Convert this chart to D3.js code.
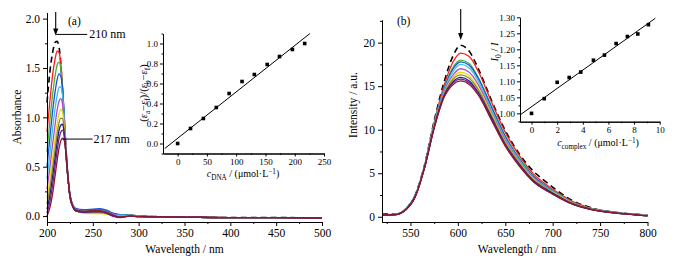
<!DOCTYPE html>
<html>
<head>
<meta charset="utf-8">
<script src="https://cdn.jsdelivr.net/npm/d3@7"></script>
<style>
  body { margin: 0; background: #fff; }
  svg { display: block; }
</style>
</head>
<body>
<div id="chart"></div>
<script>
// ---- (a) absorption spectra ----
const absWave = [200, 203, 206, 209, 211, 213, 215, 217, 219, 221, 223, 225, 228, 232, 240, 250, 258, 265, 272, 280, 290, 300, 350, 400, 450, 500];
const absFree    = [1.15, 1.45, 1.65, 1.76, 1.77, 1.72, 1.55, 1.25, 0.90, 0.60, 0.35, 0.20, 0.10, 0.060, 0.050, 0.060, 0.065, 0.050, 0.025, 0.010, 0.010, 0.000, -0.010, -0.015, -0.015, -0.020];
const absRed     = [0.85, 1.15, 1.42, 1.60, 1.67, 1.66, 1.55, 1.30, 0.95, 0.62, 0.37, 0.21, 0.11, 0.065, 0.055, 0.060, 0.065, 0.050, 0.025, 0.010, 0.010, 0.000, -0.010, -0.015, -0.015, -0.020];
const absGreen   = [0.65, 0.95, 1.22, 1.43, 1.53, 1.56, 1.50, 1.30, 0.98, 0.64, 0.38, 0.22, 0.11, 0.065, 0.055, 0.060, 0.060, 0.045, 0.020, 0.010, 0.010, 0.000, -0.010, -0.015, -0.015, -0.020];
const absBlue    = [0.50, 0.78, 1.05, 1.27, 1.38, 1.44, 1.42, 1.28, 0.99, 0.66, 0.39, 0.22, 0.12, 0.075, 0.065, 0.070, 0.075, 0.060, 0.030, 0.015, 0.010, 0.000, -0.010, -0.015, -0.015, -0.020];
const absCyan    = [0.38, 0.62, 0.88, 1.10, 1.22, 1.30, 1.31, 1.22, 0.97, 0.66, 0.39, 0.22, 0.11, 0.065, 0.055, 0.055, 0.055, 0.045, 0.020, 0.010, 0.010, 0.000, -0.010, -0.015, -0.015, -0.020];
const absMagenta = [0.27, 0.48, 0.72, 0.94, 1.07, 1.16, 1.19, 1.13, 0.93, 0.65, 0.39, 0.22, 0.11, 0.060, 0.045, 0.045, 0.045, 0.035, 0.015, 0.005, 0.005, 0.000, -0.010, -0.015, -0.015, -0.020];
const absYellow  = [0.18, 0.36, 0.58, 0.80, 0.93, 1.03, 1.08, 1.05, 0.88, 0.63, 0.38, 0.21, 0.10, 0.050, 0.030, 0.025, 0.025, 0.020, 0.005, 0.000, 0.000, -0.005, -0.010, -0.015, -0.015, -0.020];
const absOlive   = [0.12, 0.28, 0.48, 0.69, 0.83, 0.94, 0.99, 0.99, 0.85, 0.62, 0.38, 0.21, 0.10, 0.050, 0.035, 0.035, 0.035, 0.025, 0.005, -0.005, 0.000, -0.005, -0.010, -0.015, -0.015, -0.020];
const absNavy    = [0.07, 0.20, 0.39, 0.60, 0.74, 0.86, 0.92, 0.93, 0.82, 0.61, 0.38, 0.21, 0.10, 0.050, 0.040, 0.045, 0.045, 0.030, 0.000, -0.010, 0.000, -0.005, -0.010, -0.015, -0.015, -0.020];
const absPurple  = [0.03, 0.14, 0.31, 0.52, 0.66, 0.78, 0.85, 0.87, 0.79, 0.60, 0.38, 0.21, 0.10, 0.050, 0.040, 0.045, 0.045, 0.030, 0.000, -0.015, 0.000, -0.005, -0.010, -0.015, -0.015, -0.020];
const absWine    = [0.00, 0.08, 0.22, 0.42, 0.56, 0.68, 0.76, 0.79, 0.76, 0.60, 0.38, 0.21, 0.10, 0.060, 0.050, 0.055, 0.055, 0.040, 0.010, -0.010, 0.000, -0.005, -0.010, -0.015, -0.015, -0.020];

// inset (a): linear fit vs DNA concentration
const dnaConc  = [0, 22, 44, 66, 88, 110, 131, 153, 174, 196, 217];
const dnaRatio = [0.00, 0.15, 0.25, 0.36, 0.50, 0.62, 0.69, 0.79, 0.87, 0.94, 1.00];
const dnaFitX  = [-22, 226];
const dnaFitY  = [-0.05, 1.10];

// ---- (b) emission spectra ----
const emWave = [520, 535, 545, 555, 565, 575, 585, 595, 603, 612, 622, 635, 650, 665, 680, 692, 705, 720, 740, 760, 780, 800];
const emFree    = [0.30, 0.30, 0.90, 2.5, 6.0, 11.0, 15.3, 18.5, 19.7, 19.0, 16.9, 13.5, 9.9, 7.2, 5.2, 4.1, 3.0, 1.9, 1.05, 0.60, 0.35, 0.20];
const emRed     = [0.25, 0.30, 0.90, 2.4, 5.9, 10.8, 14.9, 17.8, 18.8, 18.4, 16.6, 13.3, 9.7, 7.0, 4.9, 3.8, 2.8, 1.8, 1.00, 0.60, 0.35, 0.20];
const emGreen   = [0.20, 0.30, 0.90, 2.4, 5.9, 10.7, 14.6, 17.2, 18.0, 17.6, 15.9, 12.8, 9.3, 6.7, 4.7, 3.6, 2.7, 1.7, 0.95, 0.60, 0.35, 0.20];
const emBlue    = [0.20, 0.30, 0.90, 2.4, 5.8, 10.6, 14.5, 17.0, 17.8, 17.4, 15.8, 12.7, 9.2, 6.6, 4.6, 3.6, 2.6, 1.7, 0.95, 0.55, 0.30, 0.15];
const emCyan    = [0.20, 0.30, 0.90, 2.4, 5.8, 10.6, 14.4, 16.7, 17.5, 17.1, 15.5, 12.4, 9.0, 6.5, 4.5, 3.5, 2.6, 1.7, 0.95, 0.55, 0.30, 0.15];
const emMagenta = [0.20, 0.30, 0.80, 2.3, 5.8, 10.5, 14.2, 16.3, 17.0, 16.6, 15.1, 12.1, 8.8, 6.3, 4.4, 3.4, 2.5, 1.6, 0.90, 0.55, 0.30, 0.15];
const emYellow  = [0.20, 0.25, 0.80, 2.3, 5.8, 10.4, 14.0, 16.0, 16.6, 16.2, 14.7, 11.9, 8.6, 6.2, 4.3, 3.3, 2.5, 1.6, 0.90, 0.50, 0.30, 0.15];
const emOlive   = [0.20, 0.25, 0.80, 2.3, 5.7, 10.3, 13.9, 15.8, 16.3, 15.9, 14.5, 11.7, 8.5, 6.1, 4.2, 3.3, 2.4, 1.6, 0.90, 0.50, 0.30, 0.10];
const emNavy    = [0.20, 0.25, 0.80, 2.3, 5.7, 10.3, 13.8, 15.5, 16.0, 15.6, 14.2, 11.5, 8.3, 6.0, 4.1, 3.2, 2.4, 1.5, 0.85, 0.50, 0.30, 0.10];
const emPurple  = [0.20, 0.25, 0.80, 2.3, 5.7, 10.2, 13.7, 15.4, 15.8, 15.4, 14.1, 11.3, 8.2, 5.9, 4.0, 3.1, 2.3, 1.5, 0.85, 0.50, 0.30, 0.10];
const emWine    = [0.20, 0.25, 0.80, 2.3, 5.7, 10.2, 13.6, 15.2, 15.6, 15.2, 13.9, 11.2, 8.1, 5.8, 4.0, 3.1, 2.3, 1.5, 0.85, 0.50, 0.30, 0.10];

// inset (b): Stern-Volmer plot
const complexConc = [0, 0.99, 2.0, 2.94, 3.84, 4.83, 5.69, 6.6, 7.48, 8.29, 9.12];
const quenchRatio = [1.000, 1.046, 1.097, 1.112, 1.129, 1.166, 1.182, 1.218, 1.240, 1.248, 1.277];
const svFitX = [-0.9, 9.66];
const svFitY = [0.995, 1.297];

// ticks
const absXTicks = [200, 250, 300, 350, 400, 450, 500];
const absYTicks = [0, 0.5, 1.0, 1.5, 2.0];
const emXTicks = [550, 600, 650, 700, 750, 800];
const emYTicks = [0, 5, 10, 15, 20];
const dnaXTicks = [0, 50, 100, 150, 200, 250];
const dnaYTicks = [0, 0.2, 0.4, 0.6, 0.8, 1.0];
const svXTicks = [0, 2, 4, 6, 8, 10];
const svYTicks = [1.00, 1.05, 1.10, 1.15, 1.20, 1.25, 1.30];

const seriesColors = ["#ff1a1a", "#3cb83c", "#1f4fd8", "#38c4e0", "#b848c8", "#e8dc10", "#8c8c20", "#1c1c88", "#7a1a88", "#8a1830"];

const font = "'Liberation Serif', 'Times New Roman', serif";

let svg = d3.select("#chart").append("svg")
  .attr("width", 678)
  .attr("height", 264)
  .style("background", "#fff");

// draws open-frame (left + bottom) axes with outward major/minor ticks
function drawAxes(g, x, y, cfg) {
  let yBase = y.range()[0];
  let xBase = x.range()[0];

  let bottomMinor = d3.axisBottom(x).tickValues(cfg.xMinor).tickSize(cfg.minor).tickSizeOuter(0).tickFormat("");
  let bottomMajor = d3.axisBottom(x).tickValues(cfg.xTicks).tickSize(cfg.major).tickSizeOuter(0)
    .tickPadding(cfg.pad).tickFormat(cfg.xFmt);
  let leftMinor = d3.axisLeft(y).tickValues(cfg.yMinor).tickSize(cfg.minor).tickSizeOuter(0).tickFormat("");
  let leftMajor = d3.axisLeft(y).tickValues(cfg.yTicks).tickSize(cfg.major).tickSizeOuter(0)
    .tickPadding(cfg.pad).tickFormat(cfg.yFmt);

  [bottomMinor, bottomMajor].forEach(ax => {
    g.append("g").attr("transform", `translate(0,${yBase})`).call(ax)
      .attr("font-family", font).attr("font-size", cfg.fontSize);
  });
  [leftMinor, leftMajor].forEach(ax => {
    g.append("g").attr("transform", `translate(${xBase},0)`).call(ax)
      .attr("font-family", font).attr("font-size", cfg.fontSize);
  });
  g.selectAll(".domain, .tick line").attr("stroke", "#000").attr("stroke-width", 1);
  g.selectAll(".tick text").attr("fill", "#000");
}

// text with italic / sub / sup pieces
function richText(sel, parts, baseSize) {
  let shift = 0;
  parts.forEach(p => {
    let ts = sel.append("tspan").text(p.t);
    let target = p.sub ? 2.5 : (p.sup ? -3.5 : 0);
    if (target !== shift) { ts.attr("dy", target - shift); shift = target; }
    if (p.sub || p.sup) ts.attr("font-size", baseSize * 0.72);
    if (p.i) ts.attr("font-style", "italic");
  });
  return sel;
}

function drawSpectra(g, x, y, wave, dashed, curves) {
  let line = d3.line()
    .x((d, i) => x(wave[i]))
    .y(d => y(d))
    .curve(d3.curveMonotoneX);

  g.append("path")
    .attr("d", line(dashed))
    .attr("fill", "none")
    .attr("stroke", "#000")
    .attr("stroke-width", 1.6)
    .attr("stroke-dasharray", "6,4");

  g.selectAll("path.curve")
    .data(curves)
    .enter()
    .append("path")
    .attr("class", "curve")
    .attr("d", d => line(d))
    .attr("fill", "none")
    .attr("stroke", (d, i) => seriesColors[i])
    .attr("stroke-width", 1.3);
}

function drawInset(g, x, y, xs, ys, fitX, fitY) {
  g.append("line")
    .attr("x1", x(fitX[0])).attr("y1", y(fitY[0]))
    .attr("x2", x(fitX[1])).attr("y2", y(fitY[1]))
    .attr("stroke", "#000").attr("stroke-width", 1);
  g.selectAll("rect.pt")
    .data(xs)
    .enter()
    .append("rect")
    .attr("class", "pt")
    .attr("x", (d, i) => x(d) - 1.8)
    .attr("y", (d, i) => y(ys[i]) - 1.8)
    .attr("width", 3.6)
    .attr("height", 3.6)
    .attr("fill", "#000");
}

function arrowDown(g, xPos, yTop, yTip) {
  g.append("line")
    .attr("x1", xPos).attr("x2", xPos)
    .attr("y1", yTop).attr("y2", yTip - 5)
    .attr("stroke", "#000").attr("stroke-width", 1.1);
  g.append("path")
    .attr("d", `M${xPos - 2.6},${yTip - 7} L${xPos + 2.6},${yTip - 7} L${xPos},${yTip} Z`)
    .attr("fill", "#000");
}

// ================= panel (a) =================
let gA = svg.append("g");
let xAbs = d3.scaleLinear().domain([200, 500]).range([47, 322]);
let yAbs = d3.scaleLinear().domain([-0.06, 2.06]).range([222, 12.7]);

drawSpectra(gA, xAbs, yAbs, absWave, absFree,
  [absRed, absGreen, absBlue, absCyan, absMagenta, absYellow, absOlive, absNavy, absPurple, absWine]);

drawAxes(gA, xAbs, yAbs, {
  xTicks: absXTicks, xMinor: d3.range(225, 500, 50), xFmt: d3.format("d"),
  yTicks: absYTicks, yMinor: [0.25, 0.75, 1.25, 1.75], yFmt: d3.format(".1f"),
  major: 4, minor: 2, pad: 3, fontSize: 11.5
});

gA.append("text")
  .attr("x", (xAbs(200) + xAbs(500)) / 2).attr("y", 253)
  .attr("text-anchor", "middle").attr("font-family", font).attr("font-size", 11.5)
  .text("Wavelength / nm");
gA.append("text")
  .attr("transform", "translate(21,117) rotate(-90)")
  .attr("text-anchor", "middle").attr("font-family", font).attr("font-size", 11.5)
  .text("Absorbance");
gA.append("text")
  .attr("x", 68).attr("y", 25)
  .attr("font-family", font).attr("font-size", 11.5)
  .text("(a)");

// 210 nm / 217 nm markers
arrowDown(gA, xAbs(209.5), 12, yAbs(1.83));
gA.append("line")
  .attr("x1", xAbs(210)).attr("x2", xAbs(210) + 31)
  .attr("y1", yAbs(1.84)).attr("y2", yAbs(1.84))
  .attr("stroke", "#000").attr("stroke-width", 1);
gA.append("text")
  .attr("x", xAbs(210) + 33).attr("y", yAbs(1.84) + 4)
  .attr("font-family", font).attr("font-size", 12)
  .text("210 nm");
gA.append("line")
  .attr("x1", xAbs(217)).attr("x2", xAbs(217) + 30)
  .attr("y1", yAbs(0.78)).attr("y2", yAbs(0.78))
  .attr("stroke", "#000").attr("stroke-width", 1);
gA.append("text")
  .attr("x", xAbs(217) + 31).attr("y", yAbs(0.78) + 4)
  .attr("font-family", font).attr("font-size", 12)
  .text("217 nm");

// inset (a)
let gAi = svg.append("g");
let xDna = d3.scaleLinear().domain([-25, 250]).range([163, 324]);
let yDna = d3.scaleLinear().domain([-0.1, 1.1]).range([153.5, 33.5]);
drawInset(gAi, xDna, yDna, dnaConc, dnaRatio, dnaFitX, dnaFitY);
drawAxes(gAi, xDna, yDna, {
  xTicks: dnaXTicks, xMinor: [25, 75, 125, 175, 225], xFmt: d3.format("d"),
  yTicks: dnaYTicks, yMinor: [-0.1, 0.1, 0.3, 0.5, 0.7, 0.9, 1.1], yFmt: d3.format(".1f"),
  major: 3, minor: 1.5, pad: 2, fontSize: 9
});
richText(gAi.append("text")
  .attr("x", 243).attr("y", 177)
  .attr("text-anchor", "middle").attr("font-family", font).attr("font-size", 10),
  [{t: "c", i: true}, {t: "DNA", sub: true}, {t: " / (μmol·L"}, {t: "−1", sup: true}, {t: ")"}], 10);
richText(gAi.append("text")
  .attr("transform", "translate(147,93) rotate(-90)")
  .attr("text-anchor", "middle").attr("font-family", font).attr("font-size", 10.5),
  [{t: "("}, {t: "ε", i: true}, {t: "a", sub: true}, {t: "−"}, {t: "ε", i: true}, {t: "f", sub: true},
   {t: ")/("}, {t: "ε", i: true}, {t: "b", sub: true}, {t: "−"}, {t: "ε", i: true}, {t: "f", sub: true}, {t: ")"}], 10.5);

// ================= panel (b) =================
let gB = svg.append("g");
let xEm = d3.scaleLinear().domain([520, 800]).range([382, 647.5]);
let yEm = d3.scaleLinear().domain([-0.6, 22.6]).range([222, 20]);

drawSpectra(gB, xEm, yEm, emWave, emFree,
  [emRed, emGreen, emBlue, emCyan, emMagenta, emYellow, emOlive, emNavy, emPurple, emWine]);

drawAxes(gB, xEm, yEm, {
  xTicks: emXTicks, xMinor: [525, 575, 625, 675, 725, 775], xFmt: d3.format("d"),
  yTicks: emYTicks, yMinor: [2.5, 7.5, 12.5, 17.5, 22.5], yFmt: d3.format("d"),
  major: 4, minor: 2, pad: 3, fontSize: 11.5
});

gB.append("text")
  .attr("x", 517).attr("y", 253)
  .attr("text-anchor", "middle").attr("font-family", font).attr("font-size", 11.5)
  .text("Wavelength / nm");
gB.append("text")
  .attr("transform", "translate(357,105) rotate(-90)")
  .attr("text-anchor", "middle").attr("font-family", font).attr("font-size", 11.5)
  .text("Intensity / a.u.");
gB.append("text")
  .attr("x", 397).attr("y", 25)
  .attr("font-family", font).attr("font-size", 11.5)
  .text("(b)");
arrowDown(gB, xEm(603), 9, yEm(20.3));

// inset (b)
let gBi = svg.append("g");
let xSv = d3.scaleLinear().domain([-0.9, 10]).range([520, 659.7]);
let ySv = d3.scaleLinear().domain([0.974, 1.30]).range([121.7, 17.3]);
drawInset(gBi, xSv, ySv, complexConc, quenchRatio, svFitX, svFitY);
drawAxes(gBi, xSv, ySv, {
  xTicks: svXTicks, xMinor: [1, 3, 5, 7, 9], xFmt: d3.format("d"),
  yTicks: svYTicks, yMinor: [0.975, 1.025, 1.075, 1.125, 1.175, 1.225, 1.275], yFmt: d3.format(".2f"),
  major: 3, minor: 1.5, pad: 2, fontSize: 9
});
richText(gBi.append("text")
  .attr("x", 598).attr("y", 146)
  .attr("text-anchor", "middle").attr("font-family", font).attr("font-size", 10),
  [{t: "c", i: true}, {t: "complex", sub: true}, {t: " / (μmol·L"}, {t: "−1", sup: true}, {t: ")"}], 10);
richText(gBi.append("text")
  .attr("transform", "translate(498,52) rotate(-90)")
  .attr("text-anchor", "middle").attr("font-family", font).attr("font-size", 10.5),
  [{t: "I", i: true}, {t: "0", sub: true}, {t: " / "}, {t: "I", i: true}], 10.5);
</script>
</body>
</html>
